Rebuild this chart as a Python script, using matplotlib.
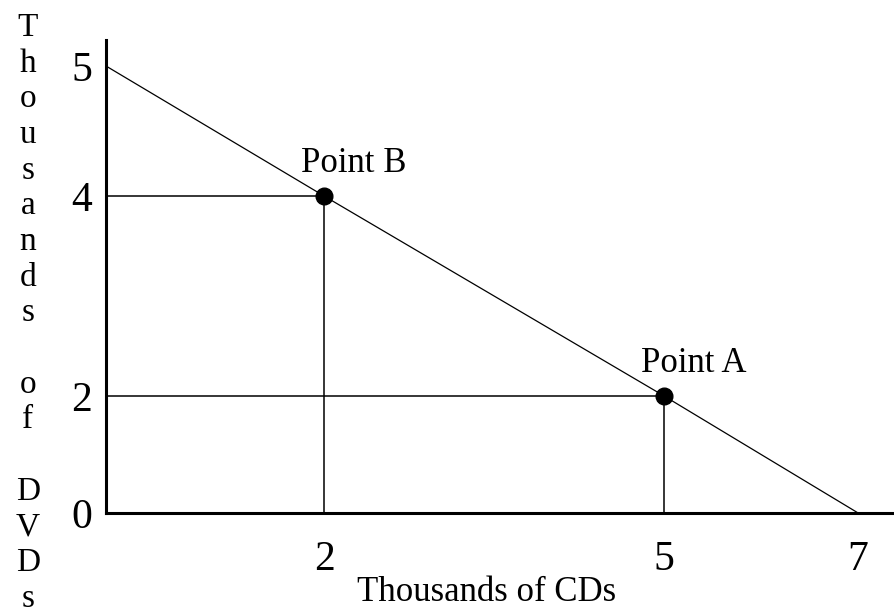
import numpy as np
import matplotlib
matplotlib.use('Agg')
import matplotlib.pyplot as plt

plt.rcParams['font.family'] = ['Liberation Serif', 'DejaVu Serif']

# production possibilities frontier (thousands)
cds = [0, 2, 5, 7]
dvds = [5, 4, 2, 0]
point_names = ['Point B', 'Point A']
point_cds = [2, 5]
point_dvds = [4, 2]
x_ticks = [2, 5, 7]
y_ticks = [0, 2, 4, 5]

# the original sketch is not drawn to scale, so use a piecewise scale
x_knots = [0, 2, 5, 7, 8]
x_pos = [0, 218, 558, 752, 849]
y_knots = [0, 2, 4, 5, 6]
y_pos = [0, 117, 317, 447, 577]


def fwd_x(v):
    return np.interp(v, x_knots, x_pos)


def inv_x(v):
    return np.interp(v, x_pos, x_knots)


def fwd_y(v):
    return np.interp(v, y_knots, y_pos)


def inv_y(v):
    return np.interp(v, y_pos, y_knots)


W, H = 895, 615
fig = plt.figure(figsize=(W / 100, H / 100), dpi=100)
ax = fig.add_axes([106 / W, 1 - 513 / H, (W - 106) / W, (513 - 40) / H])
ax.set_xscale('function', functions=(fwd_x, inv_x))
ax.set_yscale('function', functions=(fwd_y, inv_y))
ax.set_xlim(0, 7.38)
ax.set_ylim(0, 5.2)

ax.plot(cds, dvds, color='black', lw=0.9)
for name, x, y in zip(point_names, point_cds, point_dvds):
    ax.plot([0, x], [y, y], color='black', lw=1.1)
    ax.plot([x, x], [0, y], color='black', lw=1.1)
    ax.plot(x, y, 'o', color='black', markersize=12, zorder=5)
    ax.annotate(name, (x, y), xytext=(30, 32), textcoords='offset pixels',
                ha='center', va='center', fontsize=25)

for s in ['top', 'right']:
    ax.spines[s].set_visible(False)
for s in ['left', 'bottom']:
    ax.spines[s].set_linewidth(2.2)

ax.set_xticks(x_ticks)
ax.set_xticklabels([str(t) for t in x_ticks], fontsize=30)
ax.set_yticks(y_ticks)
ax.set_yticklabels([str(t) for t in y_ticks], fontsize=30)
ax.tick_params(length=0)
ax.tick_params(axis='x', pad=20)
ax.tick_params(axis='y', pad=10)

ax.set_xlabel('Thousands of CDs', fontsize=25)
ax.xaxis.set_label_coords((487 - 106) / (W - 106), -(576 - 513) / (513 - 40))

ylabel = '\n'.join(list('Thousands') + [''] + list('of') + [''] + list('DVDs'))
fig.text(28 / W, 1 - 313 / H, ylabel, ha='center', va='center',
         multialignment='center', fontsize=24, linespacing=1.22)

fig.savefig('out.png', dpi=100)
